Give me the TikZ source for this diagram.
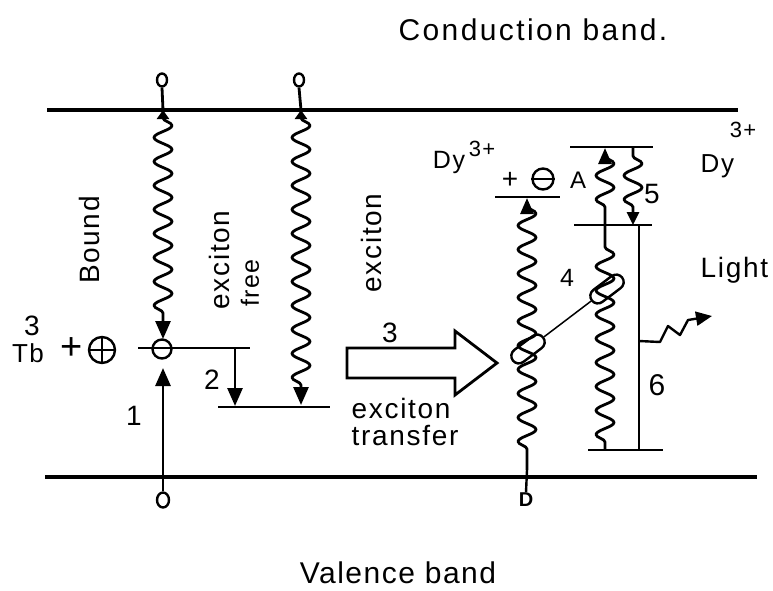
\documentclass[tikz,border=0pt]{standalone}
\usepackage{fontspec}
\setmainfont{Liberation Sans}[LetterSpace=6]
\newfontfamily\widefont{Liberation Sans}[LetterSpace=8]
\newfontfamily\valfont{Liberation Sans}[LetterSpace=5]
\usetikzlibrary{decorations.pathmorphing,arrows.meta,shapes.misc,shapes.geometric,calc}
\begin{document}
\begin{tikzpicture}[x=1pt,y=-1pt,
  font=\fontsize{28}{32}\selectfont,
  lbl/.style={inner sep=0.5pt},
  small/.style={font=\fontsize{22}{26}\selectfont},
  band/.style={line width=3.2pt},
  thick line/.style={line width=2.8pt},
  wavy/.style={line width=2.8pt, line join=round, decorate,
    decoration={snake, amplitude=9pt, segment length=24pt, pre length=8pt, post length=16pt}},
  bigtip/.style={arrows={-Triangle[length=18pt,width=15pt]}},
  bothtip/.style={arrows={Triangle[length=9pt,width=12pt]-Triangle[length=18pt,width=15pt]}},
  uptip/.style={arrows={Triangle[length=16pt,width=13pt]-}},
  ring/.style={circle, draw, line width=2.4pt, inner sep=0pt},
  oval/.style={ellipse, draw, line width=2.4pt, inner sep=0pt},
  capsule/.style={rounded rectangle, draw, line width=2.4pt, minimum width=38pt, minimum height=15pt, inner sep=0pt, rotate=37}
]
\useasboundingbox (0,0) rectangle (773,590);

% bands
\coordinate (cbL) at (47,110);  \coordinate (cbR) at (738,110);
\coordinate (vbL) at (45,477);  \coordinate (vbR) at (757,477);
\draw[band] (cbL) -- (cbR);
\draw[band] (vbL) -- (vbR);
\node[lbl, anchor=base, font=\fontsize{30}{34}\widefont] (cbt) at (533,40) {Conduction band.};
\node[lbl, anchor=base, font=\fontsize{30}{34}\valfont] (vbt) at (398,583) {Valence band};

% ---- Tb column
\node[oval, minimum width=10pt, minimum height=13pt] (oA) at (162,80) {};
\node[oval, minimum width=12pt, minimum height=15pt] (oA2) at (163,500) {};
\node[ring, minimum size=19pt] (eA) at (162,349) {};
\coordinate (tbL) at (138,348); \coordinate (tbR) at (250,348);
\draw[thick line] (tbL) -- (tbR);
\coordinate (cA) at (163,110);
\coordinate (cAe) at (163,339);
\draw[thick line] (oA.south) -- (cA);
\draw[wavy, bothtip] (cA) -- (cAe);
\coordinate (a1) at (163,368);
\draw[thick line, bigtip] (oA2.north) -- (a1);
\node[lbl] (n1) at (134,416) {1};
\node[lbl, anchor=base, font=\fontsize{26}{30}\selectfont] (tb) at (28,362) {Tb};
\node[lbl] (tb3) at (32,326) {3};
\node[lbl, font=\fontsize{38}{40}\selectfont] (plusA) at (72,349) {+};
\node[ring, minimum size=26pt] (hole) at (102,350) {};
\draw[line width=2.4pt] (hole.north) -- (hole.south) (hole.west) -- (hole.east);

% ---- arrow 2 and free exciton level
\coordinate (a2s) at (235,348); \coordinate (a2e) at (235,406);
\draw[thick line, bigtip] (a2s) -- (a2e);
\coordinate (feL) at (218,407); \coordinate (feR) at (330,407);
\draw[thick line] (feL) -- (feR);
\node[lbl] (n2) at (212,380) {2};

% ---- free exciton column
\node[oval, minimum width=10pt, minimum height=13pt] (oB) at (299,80) {};
\coordinate (cB) at (301,110);
\coordinate (cBe) at (301,405);
\draw[thick line] (oB.south) -- (cB);
\draw[wavy, bothtip] (cB) -- (cBe);

% rotated labels
\node[lbl, rotate=90] (bound) at (89,240) {Bound};
\node[lbl, rotate=90] (exc1) at (219,260) {exciton};
\node[lbl, rotate=90, font=\fontsize{25}{28}\selectfont] (free) at (250,283) {free};
\node[lbl, rotate=90] (exc2) at (371,243) {exciton};

% ---- big arrow 3
\draw[line width=2.8pt, line join=miter] (347,348) -- (455,348) -- (455,331) -- (497,363) -- (455,395) -- (455,378) -- (347,378) -- cycle;
\node[lbl] (n3) at (390,333) {3};
\node[lbl, anchor=base west] (et1) at (351,418) {exciton};
\node[lbl, anchor=base west] (et2) at (351,445) {transfer};

% ---- donor
\node[lbl, font=\fontsize{20}{24}\selectfont\bfseries] (D) at (526,500) {D};
\coordinate (dL) at (495,197); \coordinate (dR) at (560,197);
\draw[thick line] (dL) -- (dR);
\coordinate (dtop) at (527,198);
\coordinate (dbot) at (527,470);
\draw[line width=2.4pt] (D.north) -- (dbot);
\draw[wavy, uptip] (dtop) -- (dbot);
\node[lbl, anchor=base, font=\fontsize{25}{28}\selectfont] (dy1) at (449,168) {Dy};
\node[lbl, small] (dy1s) at (482,149) {3+};
\node[lbl] (plusD) at (510,180) {+};
\node[ring, minimum size=21pt] (eD) at (543,179) {};
\draw[line width=2.4pt] (eD.west) -- (eD.east);
\node[lbl, font=\fontsize{24}{28}\selectfont] (A) at (578,180) {A};

% ---- acceptor
\coordinate (tL) at (570,147); \coordinate (tR) at (653,147);
\coordinate (mL) at (574,225); \coordinate (mR) at (652,225);
\coordinate (bL) at (588,450); \coordinate (bR) at (663,450);
\draw[thick line] (tL) -- (tR);
\draw[thick line] (mL) -- (mR);
\draw[thick line] (bL) -- (bR);
\draw[wavy, uptip] (605,148) -- (605,225);
\draw[wavy, arrows={-Triangle[length=13pt,width=12pt]}] (633,148) -- (633,225);
\draw[wavy] (605,450) -- (605,225);
\coordinate (l6t) at (639,225); \coordinate (l6b) at (639,450);
\draw[line width=2.4pt] (l6t) -- (l6b);
\node[lbl] (n5) at (652,194) {5};
\node[lbl, font=\fontsize{30}{34}\selectfont] (n6) at (657,385) {6};
\node[lbl, font=\fontsize{25}{28}\selectfont] (n4) at (567,278) {4};
\node[lbl, anchor=base west, font=\fontsize{26}{30}\selectfont] (dy2) at (700,172) {Dy};
\node[lbl, small] (dy2s) at (743,130) {3+};

% capsules (transfer 4)
\node[capsule] (cap1) at (528,349) {};
\node[capsule] (cap2) at (607,289) {};
\draw[line width=1.5pt] (cap1) -- (cap2);

% light
\coordinate (lgt) at (639,341);
\coordinate (lgtEnd) at (712,316);
\draw[line width=2.4pt, arrows={-Triangle[length=16pt,width=14pt]}, line join=round]
  (lgt) -- (660,342) -- (668,326) -- (680,335) -- (688,320) -- (lgtEnd);
\node[lbl, anchor=west] (light) at (700,270) {Light};
\end{tikzpicture}
\end{document}
